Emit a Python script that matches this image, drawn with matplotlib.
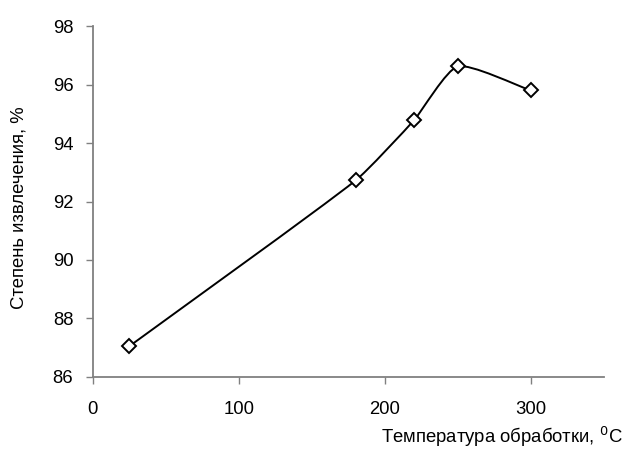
import matplotlib

matplotlib.use("Agg")

import matplotlib.pyplot as plt
import numpy as np
from matplotlib.path import Path
from matplotlib.patches import PathPatch

temperature = [25, 180, 220, 250, 300]
extraction = [87.05, 92.72, 94.78, 96.62, 95.8]

x_ticks = [0, 100, 200, 300]
y_ticks = [86, 88, 90, 92, 94, 96, 98]


def smooth_path(ax, xs, ys, tension=0.17):
    # smoothed line like a spreadsheet chart: Bezier through the points,
    # tangents worked out in screen space, scaled by segment length
    pts = ax.transData.transform(np.column_stack([xs, ys]))
    n = len(pts)
    tangents = []
    for i in range(n):
        a = pts[max(i - 1, 0)]
        b = pts[min(i + 1, n - 1)]
        d = b - a
        norm = np.hypot(*d)
        tangents.append(d / norm if norm else d)
    verts = [pts[0]]
    codes = [Path.MOVETO]
    for i in range(n - 1):
        seg = np.hypot(*(pts[i + 1] - pts[i])) * tension
        verts += [pts[i] + tangents[i] * seg,
                  pts[i + 1] - tangents[i + 1] * seg,
                  pts[i + 1]]
        codes += [Path.CURVE4] * 3
    data_verts = ax.transData.inverted().transform(np.array(verts))
    return Path(data_verts, codes)


plt.rcParams["font.family"] = ["Liberation Sans", "DejaVu Sans"]

fig = plt.figure(figsize=(6.27, 4.58), dpi=100)
ax = fig.add_axes([0.148, 0.177, 0.815, 0.766])

ax.set_xlim(0, 350)
ax.set_ylim(86, 98)
ax.set_xticks(x_ticks)
ax.set_yticks(y_ticks)

ax.add_patch(PathPatch(smooth_path(ax, temperature, extraction), facecolor="none",
                       edgecolor="black", linewidth=1.4, zorder=2))
ax.plot(temperature, extraction, linestyle="none", marker="D", markersize=7,
        markerfacecolor="white", markeredgecolor="black", markeredgewidth=1.4,
        zorder=3)

for side in ["top", "right"]:
    ax.spines[side].set_visible(False)
for side in ["left", "bottom"]:
    ax.spines[side].set_color("#808080")
    ax.spines[side].set_linewidth(1.3)

ax.tick_params(axis="both", direction="out", length=5, width=1,
               color="#808080", labelsize=13.3)
ax.tick_params(axis="y", pad=9)
ax.tick_params(axis="x", pad=12)

fig.text(0.993, 0.046, "Температура обработки, $^{0}$C", ha="right",
         va="center", fontsize=13.3)
fig.text(0.03, 0.546, "Степень извлечения, %", rotation=90, ha="center",
         va="center", fontsize=13.3)

fig.savefig("out.png", dpi=100)
